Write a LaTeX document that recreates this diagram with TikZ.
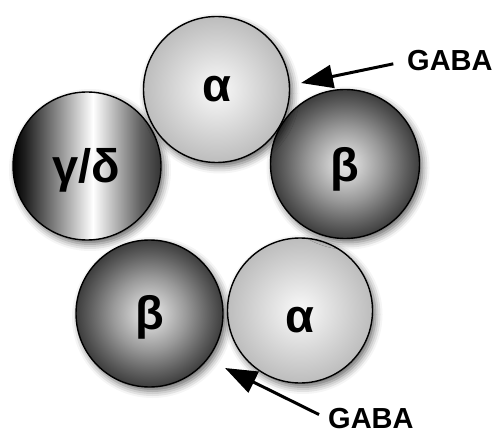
\documentclass[tikz,border=0pt]{standalone}
\usepackage{fontspec}
\setmainfont{Liberation Sans}
\usetikzlibrary{arrows.meta,shadows.blur}
\pgfdeclareradialshading{alphash}{\pgfpointorigin}{color(0bp)=(black!3); color(4bp)=(black!6); color(25bp)=(black!26); color(50bp)=(black!26)}
\pgfdeclareradialshading{betash}{\pgfpointorigin}{color(0bp)=(black!10); color(3bp)=(black!15); color(12.5bp)=(black!40); color(20bp)=(black!62); color(25bp)=(black!76); color(50bp)=(black!76)}
\pgfdeclarehorizontalshading{gdsh}{100bp}{color(0bp)=(black); color(25bp)=(black); color(29bp)=(black!88); color(52bp)=(white); color(68bp)=(black!62); color(75bp)=(black!80); color(100bp)=(black!80)}
\begin{document}
\begin{tikzpicture}[x=1pt,y=-1pt,
  sub/.style={circle, draw=black, line width=1.4pt, inner sep=0pt,
    blur shadow={shadow xshift=3pt, shadow yshift=-4pt, shadow blur radius=7pt, shadow opacity=60}},
  lbl/.style={font=\bfseries\fontsize{47}{50}\selectfont, inner sep=0pt},
  glbl/.style={font=\bfseries\fontsize{29}{31}\selectfont, inner sep=0pt},
  arr/.style={line width=3pt, -{Triangle[length=32pt,width=23pt]}}]
\useasboundingbox (0,0) rectangle (494,435);
% subunits
\node[sub, shading=gdsh, minimum size=148pt] (gd) at (87,166) {};
\node[sub, shading=betash, minimum size=147pt] (b2) at (149.5,313.5) {};
\node[sub, shading=alphash, minimum size=145pt] (a2) at (300,310.5) {};
\node[sub, shading=betash, minimum size=149pt] (b1) at (345,164) {};
\node[sub, shading=alphash, minimum size=146pt] (a1) at (216.5,89.5) {};
% labels
\node[lbl] (la1) at ([yshift=0pt]a1.center) {α};
\node[lbl] (lb1) at ([yshift=-5pt]b1.center) {β};
\node[lbl] (lgd) at ([xshift=-1pt,yshift=-4pt]gd.center) {γ/δ};
\node[lbl] (lb2) at ([yshift=-4pt]b2.center) {β};
\node[lbl] (la2) at ([yshift=-10pt]a2.center) {α};
% GABA
\node[glbl, anchor=west] (g1) at (407,61) {GABA};
\node[glbl, anchor=west] (g2) at (328,419) {GABA};
\coordinate (t1) at (301,83);
\coordinate (t2) at (225,368);
\draw[arr, shorten <=14pt] (g1.west) -- (t1);
\draw[arr, shorten <=10pt] (g2.west) -- (t2);
\end{tikzpicture}
\end{document}
